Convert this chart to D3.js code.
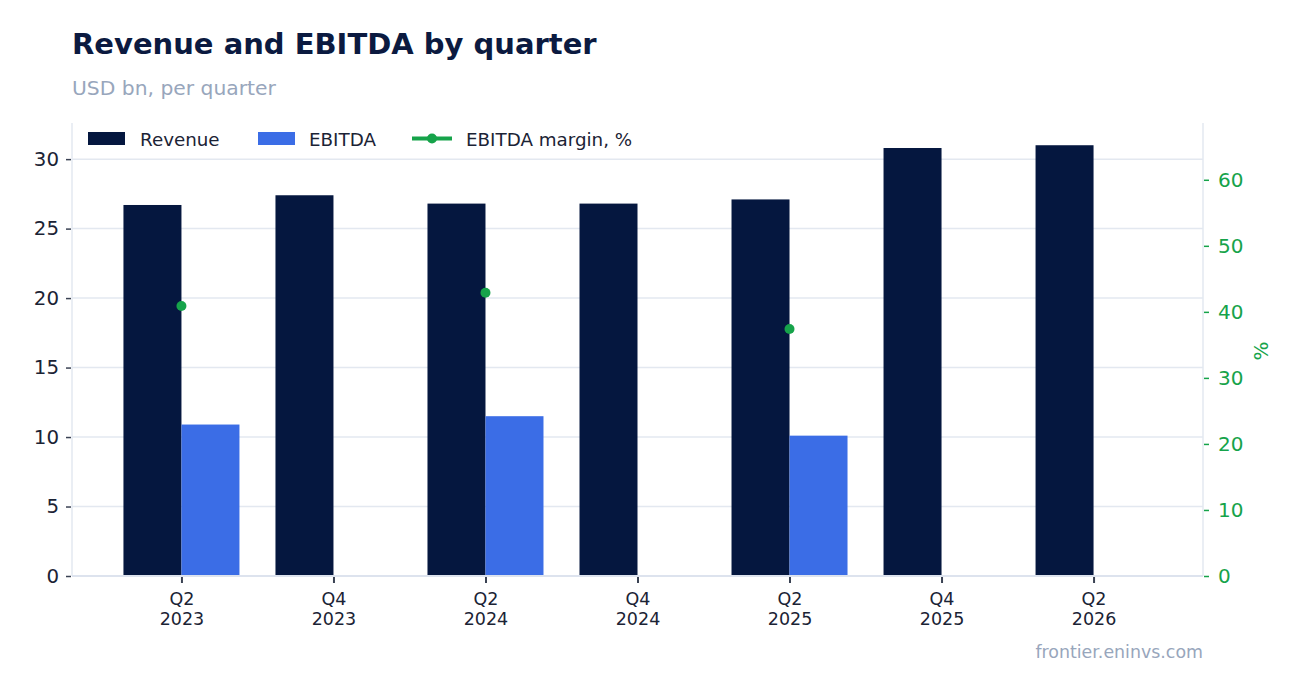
<!DOCTYPE html>
<html><head><meta charset="utf-8">
<script src="https://cdn.jsdelivr.net/npm/d3@7"></script>
<style>body{margin:0;background:#fff;font-family:"DejaVu Sans",sans-serif;}</style>
</head><body><svg id="c" width="1302" height="693"></svg>
<script>
const quarters = ["Q2 2023","Q4 2023","Q2 2024","Q4 2024","Q2 2025","Q4 2025","Q2 2026"];
const revenue = [26.7, 27.4, 26.8, 26.8, 27.1, 30.8, 31.0];
const ebitda = [10.9, null, 11.5, null, 10.1, null, null];
const margin = [40.9, null, 42.9, null, 37.4, null, null];
const leftTicks = [0,5,10,15,20,25,30];
const rightTicks = [0,10,20,30,40,50,60];

const svg = d3.select("#c");
const L = 72, R = 1203, T = 123, B = 576;
const x = d3.scalePoint().domain(quarters).range([L, R]).padding(0.72);
const y = d3.scaleLinear().domain([0, 32.6]).range([B, T]);
const y2 = d3.scaleLinear().domain([0, 68.6]).range([B, T]);
const bw = 58;
const navy = "#05173f", blue = "#3b6de6", green = "#16a34a";

svg.append("text").attr("x", 72).attr("y", 54).attr("font-size", 29).attr("font-weight", "bold").attr("fill", "#0b1a40").text("Revenue and EBITDA by quarter");
svg.append("text").attr("x", 72).attr("y", 95).attr("font-size", 20.3).attr("fill", "#98a6bc").text("USD bn, per quarter");

// grid
svg.append("g").selectAll("line").data(leftTicks.filter(d => d > 0)).join("line")
  .attr("x1", L).attr("x2", R).attr("y1", d => y(d)).attr("y2", d => y(d))
  .attr("stroke", "#e3e8f0").attr("stroke-width", 1.5);

// bars
svg.append("g").selectAll("rect").data(quarters).join("rect")
  .attr("x", d => x(d) - bw).attr("width", bw)
  .attr("y", (d, i) => y(revenue[i])).attr("height", (d, i) => B - y(revenue[i]))
  .attr("fill", navy);
svg.append("g").selectAll("rect").data(quarters.filter((d, i) => ebitda[i] != null)).join("rect")
  .attr("x", d => x(d)).attr("width", bw)
  .attr("y", d => y(ebitda[quarters.indexOf(d)])).attr("height", d => B - y(ebitda[quarters.indexOf(d)]))
  .attr("fill", blue);

// axis frame
svg.append("line").attr("x1", L).attr("x2", L).attr("y1", T).attr("y2", B).attr("stroke", "#e3e8f0").attr("stroke-width", 1.5);
svg.append("line").attr("x1", R).attr("x2", R).attr("y1", T).attr("y2", B).attr("stroke", "#e3e8f0").attr("stroke-width", 1.5);
svg.append("line").attr("x1", L).attr("x2", R).attr("y1", B).attr("y2", B).attr("stroke", "#dde3ee").attr("stroke-width", 2);

// margin dots
const line = d3.line().defined(d => d[1] != null).x(d => x(d[0])).y(d => y2(d[1]));
svg.append("path").datum(quarters.map((q, i) => [q, margin[i]])).attr("d", line).attr("fill", "none").attr("stroke", green).attr("stroke-width", 3);
svg.append("g").selectAll("circle").data(quarters.filter((d, i) => margin[i] != null)).join("circle")
  .attr("cx", d => x(d)).attr("cy", d => y2(margin[quarters.indexOf(d)])).attr("r", 5).attr("fill", green);

// left axis
const ga = svg.append("g").attr("transform", `translate(${L},0)`)
  .call(d3.axisLeft(y).tickValues(leftTicks).tickSize(6).tickPadding(7));
ga.select(".domain").remove();
ga.selectAll(".tick line").attr("stroke", "#3a4253").attr("stroke-width", 1.5).attr("x2", -6).attr("x1", -1);
ga.selectAll("text").attr("font-size", 19.8).attr("fill", "#1b2335").attr("font-family", "DejaVu Sans");

// right axis
const gr = svg.append("g").attr("transform", `translate(${R},0)`)
  .call(d3.axisRight(y2).tickValues(rightTicks).tickSize(6).tickPadding(9));
gr.select(".domain").remove();
gr.selectAll(".tick line").attr("stroke", green).attr("stroke-width", 1.5).attr("x1", 1);
gr.selectAll("text").attr("font-size", 20).attr("fill", green).attr("font-family", "DejaVu Sans");
svg.append("text").attr("transform", "translate(1268,351) rotate(-90)").attr("text-anchor", "middle")
  .attr("font-size", 20).attr("fill", green).text("%");

// x axis
const gx = svg.append("g").attr("transform", `translate(0,${B})`)
  .call(d3.axisBottom(x).tickSize(6).tickFormat(""));
gx.select(".domain").remove();
gx.selectAll(".tick line").attr("stroke", "#3a4253").attr("stroke-width", 2).attr("y1", 1).attr("y2", 7);
gx.selectAll(".tick").each(function(d) {
  const parts = d.split(" ");
  const t = d3.select(this).append("text").attr("fill", "#1b2335").attr("font-size", 17.5).attr("text-anchor", "middle").attr("font-family", "DejaVu Sans");
  t.append("tspan").attr("x", 0).attr("y", 28.5).text(parts[0]);
  t.append("tspan").attr("x", 0).attr("y", 49).text(parts[1]);
});

// legend
const lg = svg.append("g").attr("font-size", 18.3).attr("fill", "#1b2335");
lg.append("rect").attr("x", 88).attr("y", 132).attr("width", 37).attr("height", 13).attr("fill", navy);
lg.append("text").attr("x", 140).attr("y", 145.5).text("Revenue");
lg.append("rect").attr("x", 258).attr("y", 132).attr("width", 37).attr("height", 13).attr("fill", blue);
lg.append("text").attr("x", 309).attr("y", 145.5).text("EBITDA");
lg.append("line").attr("x1", 412).attr("x2", 452).attr("y1", 138.5).attr("y2", 138.5).attr("stroke", green).attr("stroke-width", 4);
lg.append("circle").attr("cx", 432).attr("cy", 138.5).attr("r", 5).attr("fill", green);
lg.append("text").attr("x", 466).attr("y", 145.5).text("EBITDA margin, %");

svg.append("text").attr("x", 1203).attr("y", 658).attr("text-anchor", "end").attr("font-size", 17.4).attr("fill", "#98a6bc").text("frontier.eninvs.com");
</script></body></html>
